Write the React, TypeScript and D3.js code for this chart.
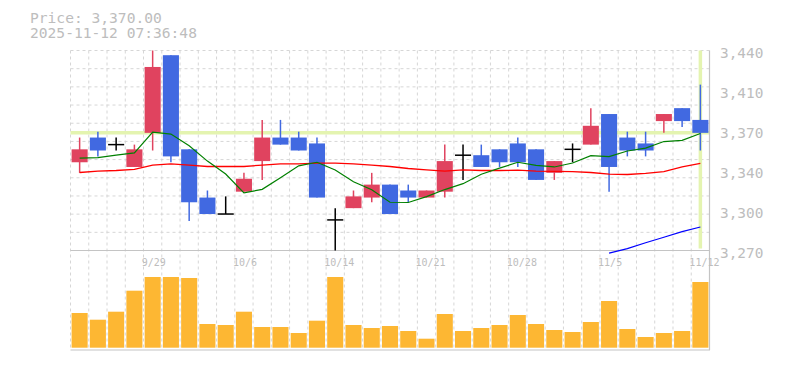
import React from "react";
import * as d3 from "d3";

const dates = ["9/22","9/24","9/25","9/26","9/29","9/30","10/1","10/2","10/3","10/6","10/7","10/8","10/9","10/10","10/14","10/15","10/16","10/17","10/20","10/21","10/22","10/23","10/24","10/27","10/28","10/29","10/30","10/31","11/4","11/5","11/6","11/7","11/10","11/11","11/12"];
const opens = [3345,3366,3360,3341,3370,3436,3356,3315,3301,3320,3346,3366,3366,3361,3296,3306,3315,3326,3321,3315,3320,3351,3351,3356,3361,3356,3336,3356,3360,3386,3366,3361,3380,3391,3381];
const highs = [3366,3371,3366,3360,3440,3436,3356,3321,3316,3336,3381,3381,3371,3366,3306,3321,3336,3326,3326,3321,3360,3360,3360,3356,3366,3356,3346,3361,3391,3386,3371,3371,3386,3391,3411];
const lows = [3336,3350,3355,3341,3355,3345,3295,3301,3301,3320,3330,3360,3355,3315,3270,3306,3311,3301,3311,3315,3315,3330,3341,3341,3341,3330,3330,3345,3360,3320,3350,3350,3370,3375,3355];
const closes = [3356,3355,3360,3356,3426,3350,3311,3301,3301,3331,3366,3360,3355,3315,3296,3316,3326,3301,3315,3321,3346,3351,3341,3345,3345,3330,3346,3356,3376,3341,3355,3355,3386,3380,3370];
const volumes = [347,280,360,570,707,707,697,237,227,360,207,207,147,270,707,227,197,217,167,90,337,167,197,227,327,237,177,157,257,467,187,107,147,167,657];
const ma5 = [3348.5,3349,3351,3353,3370.6,3369,3359,3346,3335,3319,3322,3331.8,3342,3345,3338.4,3328.4,3321.6,3311,3310.8,3315.8,3321.8,3326.8,3334.8,3340,3345,3342.4,3341,3344.4,3350.6,3349.8,3354.6,3357,3362.6,3363.6,3369.4];
const ma25 = [3336.3,3337.5,3338,3339,3342.6,3343.7,3342.6,3341.4,3341.4,3341.4,3342.6,3343.7,3343.7,3344.3,3344.3,3343.7,3342.6,3341.4,3339.7,3338.6,3337.5,3338.6,3338,3338,3338.3,3337.5,3337.3,3337,3336.3,3335,3334.6,3335.5,3337,3341,3344];
const ma75: (number | null)[] = [null,null,null,null,null,null,null,null,null,null,null,null,null,null,null,null,null,null,null,null,null,null,null,null,null,null,null,null,null,3267.8,3271.6,3276.6,3281.3,3286,3290];
const yTickValues = [3440,3406,3372,3338,3304,3270];
const yTickLabels = ["3,440","3,410","3,370","3,340","3,300","3,270"];
const xLabelDates = ["9/29","10/6","10/14","10/21","10/28","11/5","11/12"];
const currentPrice = 3370;
const titleLines = ["Price: 3,370.00","2025-11-12 07:36:48"];

const UP = "#e0435f";
const DOWN = "#4169e1";
const GRID = "#d6d6d6";
const BORDER = "#c4c4c4";
const TEXT = "#bdbdbd";
const HILITE = "#e4f4b0";
const FONT = "'DejaVu Sans Mono', monospace";

export default function App() {
  const left = 70.5, right = 709.5, top = 50.5, bottom = 250.5, volBottom = 350;
  const x = d3.scaleBand<string>().domain(dates).range([left, right]).paddingInner(0.12).paddingOuter(0.06);
  const step = x.step();
  const bw = x.bandwidth();
  const cx = (d: string) => (x(d) as number) + bw / 2;
  const y = d3.scaleLinear().domain([3270, 3440]).range([bottom, top]);
  const yv = d3.scaleLinear().domain([0, 977]).range([347.7, 250]);

  const hGrid = d3.range(12).map((k) => top + (k * (bottom - top)) / 11);
  const vGrid = d3.range(35).map((k) => left + k * ((right - left) / 35));

  const lineGen = d3
    .line<number | null>()
    .defined((d) => d !== null)
    .x((_, i) => cx(dates[i]))
    .y((d) => y(d as number));

  const lastX = cx(dates[dates.length - 1]);

  return (
    <svg width={785} height={370} style={{ position: "absolute", left: 0, top: 0, background: "#fff" }}>
      {titleLines.map((t, i) => (
        <text key={t} x={30} y={22.7 + i * 15} fontFamily={FONT} fontSize={14.6} fill={TEXT}>
          {t}
        </text>
      ))}
      {/* grid main */}
      {hGrid.map((gy, i) => (
        <line key={"h" + i} x1={left} x2={right} y1={gy} y2={gy} stroke={GRID} strokeDasharray="3,3" />
      ))}
      {vGrid.map((gx, i) => (
        <line key={"v" + i} x1={gx} x2={gx} y1={top} y2={volBottom} stroke={GRID} strokeDasharray="3,3" />
      ))}
      {/* highlights */}
      <line x1={left} x2={right} y1={y(currentPrice)} y2={y(currentPrice)} stroke={HILITE} strokeWidth={3.5} />
      <line x1={lastX} x2={lastX} y1={top} y2={bottom - 2} stroke={HILITE} strokeWidth={3.5} />
      {/* borders */}
      <line x1={left} x2={right + 0.5} y1={bottom} y2={bottom} stroke={BORDER} strokeWidth={1.2} />
      <line x1={left} x2={right + 0.5} y1={volBottom} y2={volBottom} stroke={BORDER} strokeWidth={1.2} />
      <line x1={right} x2={right} y1={top} y2={volBottom} stroke={BORDER} strokeWidth={1.2} />
      {/* y labels */}
      {yTickValues.map((v, i) => (
        <text key={"yl" + i} x={720} y={y(v) + 7.6} fontFamily={FONT} fontSize={14.4} fill={TEXT}>
          {yTickLabels[i]}
        </text>
      ))}
      {/* x labels */}
      {xLabelDates.map((d) => (
        <text key={"xl" + d} x={cx(d) - 11} y={266} fontFamily={FONT} fontSize={10} fill={TEXT}>
          {d}
        </text>
      ))}
      {/* volume */}
      {volumes.map((v, i) => (
        <rect key={"vol" + i} x={x(dates[i])} y={yv(v)} width={bw} height={yv(0) - yv(v)} fill="#fdb733" />
      ))}
      {/* candles */}
      {dates.map((d, i) => {
        const o = opens[i], c = closes[i], h = highs[i], l = lows[i];
        const col = c > o ? UP : c < o ? DOWN : "#000";
        const xc = cx(d);
        if (c === o) {
          return (
            <g key={"c" + i}>
              <line x1={xc} x2={xc} y1={y(h)} y2={y(l)} stroke={col} strokeWidth={1.5} />
              <line x1={x(d)} x2={(x(d) as number) + bw} y1={y(o)} y2={y(o)} stroke={col} strokeWidth={1.5} />
            </g>
          );
        }
        return (
          <g key={"c" + i}>
            <line x1={xc} x2={xc} y1={y(h)} y2={y(l)} stroke={col} strokeWidth={1.5} />
            <rect x={x(d)} y={y(Math.max(o, c))} width={bw} height={Math.abs(y(o) - y(c))} fill={col} />
          </g>
        );
      })}
      {/* moving averages */}
      <path d={lineGen(ma25) || ""} fill="none" stroke="#ff0000" strokeWidth={1.3} />
      <path d={lineGen(ma5) || ""} fill="none" stroke="#008000" strokeWidth={1.2} />
      <path d={lineGen(ma75) || ""} fill="none" stroke="#0000ff" strokeWidth={1.2} />
    </svg>
  );
}
